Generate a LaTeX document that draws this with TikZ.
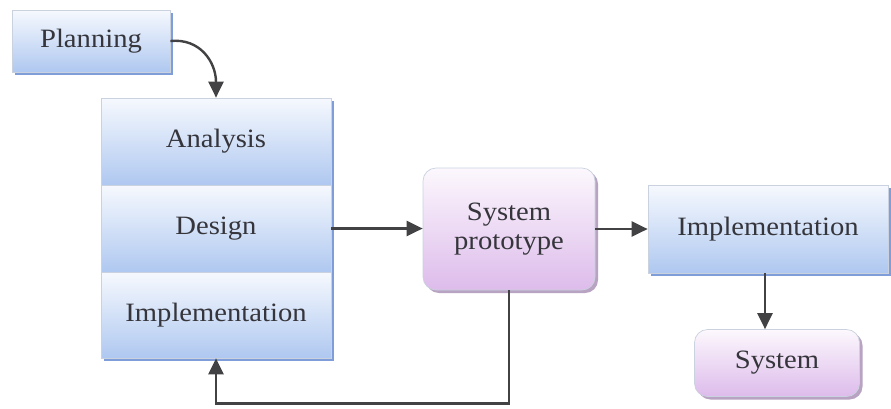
\documentclass[tikz,border=0pt]{standalone}
\usepackage{fontspec}
\setmainfont{Liberation Serif}[FakeStretch=1.08]
\usetikzlibrary{arrows.meta,shadows}

\definecolor{txt}{HTML}{35353B}
\definecolor{edge}{HTML}{C9D2DE}
\definecolor{bluetop}{HTML}{F6F9FE}
\definecolor{bluemid}{HTML}{E0EAFA}
\definecolor{bluebot}{HTML}{AFC8F0}
\definecolor{blueshadow}{HTML}{7E9DD9}
\definecolor{purpletop}{HTML}{FCF8FD}
\definecolor{purplemid}{HTML}{F3E4F7}
\definecolor{purplebot}{HTML}{DDBBEB}
\definecolor{purpleshadow}{HTML}{B8A3C2}
\definecolor{arrowgray}{HTML}{424245}

\tikzset{
  label font/.style={font=\fontsize{26.5}{31}\selectfont, text=txt},
  bluebox/.style={rectangle, draw=edge, line width=0.7pt,
    top color=bluetop, middle color=bluemid, bottom color=bluebot, label font,
    drop shadow={shadow xshift=3pt, shadow yshift=-3pt, fill=blueshadow, opacity=1}},
  purplebox/.style={rectangle, rounded corners=13pt, draw=edge, line width=0.7pt,
    top color=purpletop, middle color=purplemid, bottom color=purplebot,
    label font, align=center,
    drop shadow={shadow xshift=3pt, shadow yshift=-3pt, fill=purpleshadow, opacity=1}},
  flow/.style={draw=arrowgray, line width=2.4pt,
    -{Triangle[length=16pt,width=15pt]}},
}

\begin{document}
\begin{tikzpicture}[x=1pt, y=-1pt]
  \useasboundingbox (0,0) rectangle (891,408);

  % planning step
  \node[bluebox, minimum width=158pt, minimum height=62pt] (plan) at (91,41) {Planning};

  % analysis / design / implementation stack
  \node[bluebox, minimum width=230pt, minimum height=87pt] (ana) at (216,141.5) {Analysis};
  \node[bluebox, minimum width=230pt, minimum height=87pt] (des) at (216,228.5) {Design};
  \node[bluebox, minimum width=230pt, minimum height=86pt] (imp) at (216,315) {Implementation};

  % prototype and final stages
  \node[purplebox, minimum width=172pt, minimum height=122pt] (proto) at (509,229)
    {System\\[-2pt]prototype};
  \node[bluebox, minimum width=240pt, minimum height=88pt] (impl) at (768,229) {Implementation};
  \node[purplebox, minimum width=165pt, minimum height=67pt] (sys) at (777,363) {System};

  % connectors
  \draw[flow] (plan.east) .. controls (200,38) and (216,62) .. (ana.north);
  \draw[flow] (des.east) -- (proto.west |- des.east);
  \draw[flow] (proto.east) -- (impl.west |- proto.east);
  \draw[flow] ([xshift=-3pt]impl.south) -- ([xshift=-3pt]impl.south |- sys.north);
  \draw[flow] (proto.south) -- ++(0,113) -| (imp.south);
\end{tikzpicture}
\end{document}
